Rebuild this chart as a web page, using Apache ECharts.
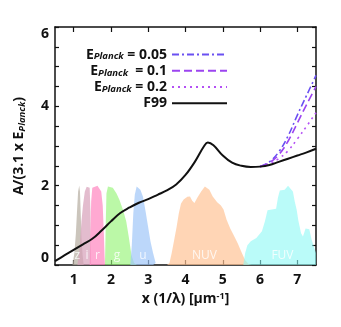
<!DOCTYPE html>
<html>
<head>
<meta charset="utf-8">
<script src="https://cdn.jsdelivr.net/npm/echarts@6/dist/echarts.min.js"></script>
<style>
  html, body { margin: 0; padding: 0; background: #fff; }
  #chart { width: 341px; height: 327px; }
</style>
</head>
<body>
<div id="chart"></div>
<script>
// extinction curve F99
const f99X = [0.5, 0.75, 1.0, 1.25, 1.5, 1.75, 2.0, 2.25, 2.5, 2.75, 3.0, 3.25, 3.5, 3.75, 4.0, 4.25, 4.5, 4.6, 4.75, 5.0, 5.25, 5.5, 5.75, 6.0, 6.25, 6.5, 6.75, 7.0, 7.25, 7.5];
const f99Y = [0.10, 0.24, 0.38, 0.52, 0.66, 0.87, 1.10, 1.31, 1.45, 1.57, 1.66, 1.77, 1.88, 2.03, 2.27, 2.60, 3.00, 3.09, 3.02, 2.76, 2.58, 2.50, 2.47, 2.48, 2.52, 2.60, 2.68, 2.76, 2.84, 2.93];

// E_Planck curves, only differ from F99 above x ~ 6
const uvX = [6.0, 6.25, 6.5, 6.75, 7.0, 7.25, 7.5];
const e005Y = [2.48, 2.60, 2.85, 3.25, 3.78, 4.28, 4.78];
const e01Y = [2.48, 2.58, 2.78, 3.12, 3.58, 4.05, 4.50];
const e02Y = [2.48, 2.55, 2.68, 2.88, 3.18, 3.50, 3.84];

// filter transmission bands (scaled to peak 2)
const zBand = [[0.97,0],[1.02,0.3],[1.06,0.8],[1.09,1.35],[1.12,1.85],[1.15,2.0],[1.17,1.85],[1.19,1.3],[1.21,0.7],[1.24,0.25],[1.27,0]];
const iBand = [[1.10,0],[1.16,0.4],[1.21,1.1],[1.25,1.5],[1.30,1.85],[1.35,1.97],[1.40,2.0],[1.43,1.95],[1.45,1.4],[1.46,0.5],[1.47,0]];
const rBand = [[1.43,0],[1.45,0.8],[1.47,1.6],[1.50,1.95],[1.54,2.0],[1.64,2.0],[1.69,1.95],[1.74,1.85],[1.78,1.5],[1.81,0.8],[1.83,0.2],[1.84,0]];
const gBand = [[1.84,0],[1.86,1.0],[1.88,1.8],[1.92,1.98],[1.97,2.0],[2.05,1.95],[2.15,1.8],[2.23,1.64],[2.32,1.4],[2.41,1.1],[2.48,0.7],[2.55,0.25],[2.62,0.05],[2.7,0]];
const uBand = [[2.52,0],[2.56,0.5],[2.60,1.3],[2.64,1.77],[2.69,1.98],[2.73,2.0],[2.79,1.9],[2.86,1.72],[2.93,1.35],[2.99,1.0],[3.06,0.6],[3.13,0.3],[3.20,0.05],[3.25,0]];
const nuvBand = [[3.50,0],[3.57,0.05],[3.63,0.3],[3.70,0.65],[3.76,0.95],[3.82,1.3],[3.88,1.55],[3.95,1.65],[4.05,1.72],[4.12,1.73],[4.18,1.62],[4.24,1.56],[4.32,1.7],[4.42,1.85],[4.52,1.98],[4.57,2.0],[4.64,1.9],[4.73,1.73],[4.85,1.58],[4.95,1.5],[5.02,1.4],[5.10,1.15],[5.20,0.92],[5.30,0.74],[5.40,0.55],[5.50,0.33],[5.60,0.12],[5.70,0.02],[5.78,0]];
const fuvBand = [[5.55,0],[5.60,0.3],[5.66,0.5],[5.75,0.6],[5.90,0.68],[6.05,0.85],[6.13,1.1],[6.20,1.38],[6.43,1.42],[6.48,1.7],[6.53,1.88],[6.66,1.9],[6.75,2.0],[6.80,1.98],[6.88,1.85],[6.93,1.6],[6.98,1.4],[7.03,1.1],[7.10,0.8],[7.15,0.72],[7.22,0.92],[7.27,0.97],[7.32,0.9],[7.38,0.65],[7.43,0.5],[7.5,0.3]];

const bandNames = ['z', 'i', 'r', 'g', 'u', 'NUV', 'FUV'];
const bandLabelX = [1.10, 1.36, 1.64, 2.16, 2.86, 4.51, 6.60];
const bandLabelY = 0.25;

const xTicks = [1, 2, 3, 4, 5, 6, 7];
const yLabels = [0, 2, 4, 6];

const FONT = 'Open Sans';

function pairs(xs, ys) {
    return xs.map((x, i) => [x, ys[i]]);
}

const bandSeries = [
    { d: zBand, c: 'rgba(185,178,166,0.75)' },
    { d: iBand, c: 'rgba(215,160,185,0.7)' },
    { d: rBand, c: 'rgba(255,140,195,0.75)' },
    { d: gBand, c: 'rgba(150,245,120,0.65)' },
    { d: uBand, c: 'rgba(160,198,248,0.7)' },
    { d: nuvBand, c: 'rgba(255,195,150,0.7)' },
    { d: fuvBand, c: 'rgba(140,248,245,0.6)' }
].map(b => ({
    type: 'line',
    data: b.d,
    symbol: 'none',
    silent: true,
    lineStyle: { width: 0 },
    areaStyle: { color: b.c, opacity: 1 },
    z: 1
}));

const axisBase = {
    type: 'value',
    min: 0.5,
    max: 7.5,
    splitLine: { show: false },
    axisLine: { show: true, onZero: false, lineStyle: { color: '#111', width: 1.5 } },
    axisTick: { show: true, inside: true, length: 5, customValues: xTicks, lineStyle: { color: '#111', width: 1.2 } }
};

const yBase = {
    type: 'value',
    min: 0,
    max: 6,
    interval: 0.5,
    splitLine: { show: false },
    axisLine: { show: true, onZero: false, lineStyle: { color: '#111', width: 1.5 } },
    axisTick: { show: true, inside: true, length: 4, lineStyle: { color: '#111', width: 1.2 } }
};

var chart = echarts.init(document.getElementById('chart'));

chart.setOption({
    animation: false,
    backgroundColor: '#fff',
    grid: { left: 55, right: 25, top: 27, bottom: 62 },
    legend: {
        data: ['e005', 'e01', 'e02', 'F99'],
        orient: 'vertical',
        align: 'right',
        right: 108,
        top: 42,
        itemWidth: 55,
        itemHeight: 19,
        itemGap: 1,
        selectedMode: false,
        itemStyle: { opacity: 0, borderWidth: 0 },
        formatter: function (n) {
            if (n === 'e005') return 'E{sub|Planck} = 0.05';
            if (n === 'e01') return 'E{sub|Planck}  = 0.1';
            if (n === 'e02') return 'E{sub|Planck} = 0.2';
            return n;
        },
        textStyle: {
            fontFamily: FONT,
            fontWeight: 'bold',
            fontSize: 14,
            color: '#111',
            rich: {
                sub: { fontFamily: FONT, fontSize: 9.5, fontWeight: 'bold', fontStyle: 'italic', color: '#111', verticalAlign: 'bottom', padding: [4, 0, 0, 0] }
            }
        }
    },
    xAxis: [
        Object.assign({}, axisBase, {
            position: 'bottom',
            name: 'x (1/λ) [μm{sup|-1}]',
            nameLocation: 'middle',
            nameGap: 24,
            nameTextStyle: {
                fontFamily: FONT, fontWeight: 'bold', fontSize: 14, color: '#111',
                rich: { sup: { fontFamily: FONT, fontWeight: 'bold', fontSize: 9, color: '#111', verticalAlign: 'top', padding: [0, 0, 6, 0] } }
            },
            axisLabel: { show: true, customValues: xTicks, margin: 8, fontFamily: FONT, fontWeight: 'bold', fontSize: 14, color: '#111' }
        }),
        Object.assign({}, axisBase, {
            position: 'top',
            axisLabel: { show: false }
        })
    ],
    yAxis: [
        Object.assign({}, yBase, {
            position: 'left',
            name: 'A/(3.1 x E{sub|Planck})',
            nameLocation: 'middle',
            nameGap: 28,
            nameTextStyle: {
                fontFamily: FONT, fontWeight: 'bold', fontSize: 14, color: '#111',
                rich: { sub: { fontFamily: FONT, fontSize: 9.5, fontWeight: 'bold', fontStyle: 'italic', color: '#111', verticalAlign: 'bottom', padding: [5, 0, 0, 0] } }
            },
            axisLabel: {
                show: true, margin: 6, fontFamily: FONT, fontWeight: 'bold', fontSize: 14, color: '#111',
                verticalAlignMinLabel: 'bottom',
                verticalAlignMaxLabel: 'top',
                formatter: v => (yLabels.indexOf(v) >= 0 ? String(v) : '')
            }
        }),
        Object.assign({}, yBase, {
            position: 'right',
            axisLabel: { show: false }
        })
    ],
    series: bandSeries.concat([
        {
            type: 'scatter',
            silent: true,
            symbolSize: 1,
            itemStyle: { color: 'rgba(0,0,0,0)' },
            data: bandNames.map((n, i) => ({ name: n, value: [bandLabelX[i], bandLabelY] })),
            label: { show: true, position: 'inside', formatter: '{b}', color: '#fff', fontFamily: FONT, fontSize: 12 },
            z: 2
        },
        {
            name: 'F99',
            type: 'line',
            data: pairs(f99X, f99Y),
            smooth: 0.4,
            symbol: 'none',
            lineStyle: { color: '#111', width: 2 },
            itemStyle: { color: '#111' },
            z: 5
        },
        {
            name: 'e005',
            type: 'line',
            data: pairs(uvX, e005Y),
            smooth: 0.4,
            symbol: 'none',
            lineStyle: { color: '#6a50f2', width: 1.6, type: [7, 3, 2, 3] },
            itemStyle: { color: '#6a50f2' },
            z: 4
        },
        {
            name: 'e01',
            type: 'line',
            data: pairs(uvX, e01Y),
            smooth: 0.4,
            symbol: 'none',
            lineStyle: { color: '#9c44f0', width: 1.6, type: [8, 4] },
            itemStyle: { color: '#9c44f0' },
            z: 4
        },
        {
            name: 'e02',
            type: 'line',
            data: pairs(uvX, e02Y),
            smooth: 0.4,
            symbol: 'none',
            lineStyle: { color: '#b450f5', width: 1.6, type: [2, 4] },
            itemStyle: { color: '#b450f5' },
            z: 4
        }
    ])
});

window.addEventListener('resize', () => {
    if (chart) chart.resize();
});
</script>
</body>
</html>
